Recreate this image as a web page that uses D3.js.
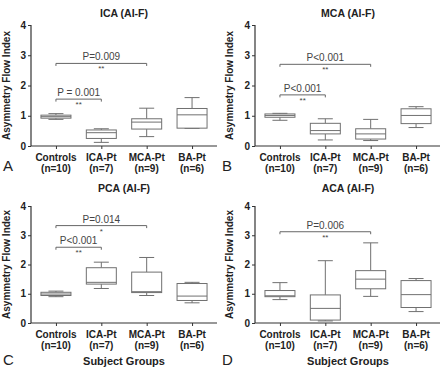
<!DOCTYPE html>
<html><head><meta charset="utf-8">
<script src="https://cdn.jsdelivr.net/npm/d3@7"></script>
<style>body{margin:0;background:#fff}svg{display:block}text{font-family:"Liberation Sans",Arial,sans-serif}</style>
</head><body><svg id="c" width="440" height="370"></svg>
<script>
const groups = ["Controls","ICA-Pt","MCA-Pt","BA-Pt"];
const groupN = ["(n=10)","(n=7)","(n=9)","(n=6)"];
const yTicks = [0,1,2,3,4];
// five-number summaries per group: [min, q1, median, q3, max]
const icaStats = [[0.88,0.92,0.97,1.02,1.07],[0.12,0.25,0.44,0.53,0.57],[0.31,0.56,0.79,0.90,1.25],[0.58,0.59,1.03,1.24,1.60]];
const mcaStats = [[0.85,0.95,1.01,1.06,1.08],[0.20,0.40,0.51,0.75,0.90],[0.18,0.23,0.40,0.57,0.88],[0.61,0.74,1.01,1.23,1.30]];
const pcaStats = [[0.90,0.94,0.99,1.05,1.09],[1.18,1.33,1.39,1.89,2.08],[0.94,1.04,1.07,1.74,2.24],[0.69,0.77,0.92,1.35,1.39]];
const acaStats = [[0.80,0.90,0.93,1.11,1.38],[0.07,0.10,0.50,0.96,2.13],[0.91,1.17,1.50,1.79,2.74],[0.39,0.53,0.97,1.45,1.52]];
const icaBrackets = [{a:0,b:1,y:1.55,p:"P = 0.001",s:"**"},{a:0,b:2,y:2.73,p:"P=0.009",s:"**"}];
const mcaBrackets = [{a:0,b:1,y:1.69,p:"P<0.001",s:"**"},{a:0,b:2,y:2.70,p:"P<0.001",s:"**"}];
const pcaBrackets = [{a:0,b:1,y:2.59,p:"P<0.001",s:"**"},{a:0,b:2,y:3.33,p:"P=0.014",s:"*"}];
const acaBrackets = [{a:0,b:2,y:3.12,p:"P=0.006",s:"**"}];
const titles = ["ICA (AI-F)","MCA (AI-F)","PCA (AI-F)","ACA (AI-F)"];
const letters = ["A","B","C","D"];

const panels = [
  {stats:icaStats,br:icaBrackets,x0:31,y0:25,y1:146,title:17,letter:171,yt:10,lx:3,sg:false},
  {stats:mcaStats,br:mcaBrackets,x0:255,y0:25,y1:146,title:17,letter:171,yt:233,lx:222,sg:false},
  {stats:pcaStats,br:pcaBrackets,x0:31,y0:206,y1:323,title:192,letter:365,yt:10,lx:3,sg:true},
  {stats:acaStats,br:acaBrackets,x0:255,y0:206,y1:323,title:192,letter:365,yt:233,lx:222,sg:true}
];
const svg = d3.select("#c");
const W = 186, boxW = 30, capW = 15;
const stroke = "#707070";

panels.forEach((p,i)=>{
  const x = d3.scalePoint().domain(groups).range([p.x0,p.x0+W]).padding(0.55);
  const y = d3.scaleLinear().domain([0,4]).range([p.y1,p.y0]);
  const g = svg.append("g");
  // axes
  const ya = g.append("g").attr("transform",`translate(${p.x0},0)`)
    .call(d3.axisLeft(y).tickValues(yTicks).tickSize(3).tickPadding(2).tickFormat(d3.format("d")));
  const xa = g.append("g").attr("transform",`translate(0,${p.y1})`)
    .call(d3.axisBottom(x).tickSize(3).tickPadding(2).tickFormat(""));
  [ya,xa].forEach(a=>{a.select(".domain").attr("stroke","#333").attr("stroke-width",1.2);a.selectAll(".tick line").attr("stroke","#333");});
  ya.selectAll("text").attr("font-size",10).attr("font-weight","bold").attr("fill","#222").attr("font-family","Liberation Sans, Arial, sans-serif");
  xa.select(".domain").attr("d",`M${p.x0},0H${p.x0+W}`);
  ya.select(".domain").attr("d",`M0,${p.y1}V${p.y0}`);
  // x labels
  groups.forEach((c,k)=>{
    g.append("text").attr("x",x(c)).attr("y",p.y1+15).attr("text-anchor","middle")
      .attr("font-size",10).attr("font-weight","bold").attr("fill","#222").text(c);
    g.append("text").attr("x",x(c)).attr("y",p.y1+26).attr("text-anchor","middle")
      .attr("font-size",10).attr("font-weight","bold").attr("fill","#222").text(groupN[k]);
  });
  // title
  g.append("text").attr("x",p.x0+W/2).attr("y",p.title).attr("text-anchor","middle")
    .attr("font-size",10.5).attr("font-weight","bold").attr("fill","#222").text(titles[i]);
  // y title
  g.append("text").attr("transform",`translate(${p.yt},${(p.y0+p.y1)/2}) rotate(-90)`)
    .attr("text-anchor","middle").attr("font-size",10).attr("font-weight","bold").attr("fill","#222")
    .text("Asymmetry Flow Index");
  // letter
  g.append("text").attr("x",p.lx).attr("y",p.letter).attr("font-size",15).attr("fill","#222").text(letters[i]);
  if(p.sg) g.append("text").attr("x",p.x0+W/2).attr("y",365).attr("text-anchor","middle")
    .attr("font-size",11).attr("font-weight","bold").attr("fill","#222").text("Subject Groups");
  // boxes
  p.stats.forEach((s,k)=>{
    const cx = x(groups[k]);
    const bg = g.append("g").attr("stroke",stroke).attr("stroke-width",1).attr("fill","none");
    bg.append("line").attr("x1",cx).attr("x2",cx).attr("y1",y(s[0])).attr("y2",y(s[1]));
    bg.append("line").attr("x1",cx).attr("x2",cx).attr("y1",y(s[3])).attr("y2",y(s[4]));
    bg.append("line").attr("x1",cx-capW/2).attr("x2",cx+capW/2).attr("y1",y(s[0])).attr("y2",y(s[0]));
    bg.append("line").attr("x1",cx-capW/2).attr("x2",cx+capW/2).attr("y1",y(s[4])).attr("y2",y(s[4]));
    bg.append("rect").attr("x",cx-boxW/2).attr("width",boxW).attr("y",y(s[3])).attr("height",y(s[1])-y(s[3])).attr("fill","#fff");
    bg.append("line").attr("x1",cx-boxW/2).attr("x2",cx+boxW/2).attr("y1",y(s[2])).attr("y2",y(s[2]));
  });
  // brackets
  p.br.forEach(b=>{
    const xa1 = x(groups[b.a]), xb1 = x(groups[b.b]), yy = y(b.y);
    g.append("path").attr("d",`M${xa1},${yy+2.5}V${yy}H${xb1}V${yy+2.5}`)
      .attr("fill","none").attr("stroke","#666").attr("stroke-width",1);
    g.append("text").attr("x",(xa1+xb1)/2).attr("y",yy-3).attr("text-anchor","middle")
      .attr("font-size",10).attr("fill","#444").text(b.p);
    g.append("text").attr("x",(xa1+xb1)/2).attr("y",yy+8).attr("text-anchor","middle")
      .attr("font-size",8).attr("fill","#444").text(b.s);
  });
});
</script></body></html>
